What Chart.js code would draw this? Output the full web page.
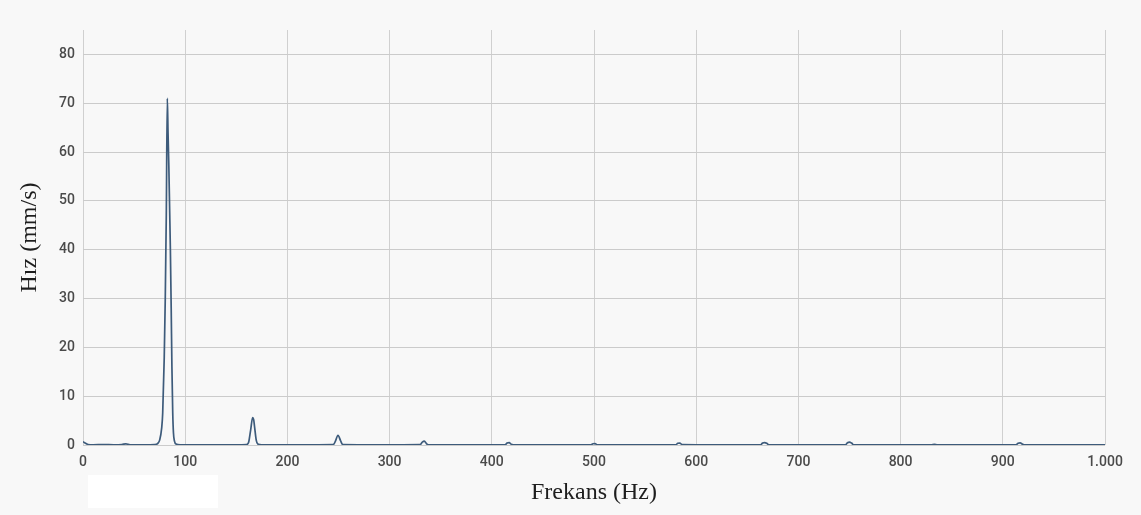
<!DOCTYPE html>
<html>
<head>
<meta charset="utf-8">
<script src="https://cdn.jsdelivr.net/npm/chart.js@4.4.0/dist/chart.umd.min.js"></script>
<style>
  html, body { margin: 0; padding: 0; background: #f8f8f8; }
  #wrap { position: relative; width: 1141px; height: 515px; }
  canvas { display: block; }
  #patch { position: absolute; left: 88px; top: 475px; width: 130px; height: 33px; background: #ffffff; }
</style>
</head>
<body>
<div id="wrap">
  <canvas id="c" width="1141" height="515"></canvas>
  <div id="patch"></div>
</div>
<script>
// Vibration velocity spectrum: frequency (Hz) and velocity amplitude (mm/s)
const frequencies = [
  0, 2, 5, 10, 20, 30, 38, 42, 46, 60, 70, 73, 75, 77, 78, 79.5, 80.5, 81.5, 82.5,
  83.2, 84, 84.8, 85.5, 86.3, 87, 87.8, 88.5, 89.5, 91, 95, 120, 150,
  160, 162, 164, 166, 167, 168, 169.5, 171, 175, 210,
  245, 247, 249.5, 252, 254, 290,
  330, 332, 334, 336, 338, 380,
  413, 415, 417, 419, 421, 460,
  497, 499, 501, 503, 540,
  580, 582, 584, 586, 620,
  663, 665, 667, 669, 671, 710,
  746, 748, 750, 752, 754, 790,
  830, 833, 836, 870,
  913, 915, 917, 919, 921, 960, 1000
];
const amplitudes = [
  0.7, 0.4, 0.1, 0.05, 0.1, 0.05, 0.1, 0.25, 0.05, 0.05, 0.1, 0.3, 1.0, 3.5, 6.6, 18, 30, 47, 71,
  64, 57, 48, 40, 28, 16, 6.6, 2.5, 0.8, 0.2, 0.05, 0.05, 0.05,
  0.1, 0.5, 3, 5.6, 5.2, 3.5, 1, 0.2, 0.05, 0.05,
  0.1, 0.8, 2.0, 0.9, 0.1, 0.05,
  0.1, 0.6, 0.8, 0.3, 0.05, 0.05,
  0.05, 0.4, 0.5, 0.15, 0.05, 0.05,
  0.05, 0.25, 0.3, 0.05, 0.05,
  0.05, 0.35, 0.4, 0.1, 0.05,
  0.05, 0.4, 0.5, 0.35, 0.05, 0.05,
  0.05, 0.45, 0.6, 0.4, 0.05, 0.05,
  0.05, 0.15, 0.05, 0.05,
  0.05, 0.35, 0.45, 0.2, 0.05, 0.05, 0.05
];
const xTicks = [0, 100, 200, 300, 400, 500, 600, 700, 800, 900, 1000];
const yTicks = [0, 10, 20, 30, 40, 50, 60, 70, 80];

const points = frequencies.map((f, i) => ({ x: f, y: amplitudes[i] }));

const tickFont = { family: 'Roboto', size: 14, weight: '500' };
const titleFont = { family: 'Liberation Serif', size: 24 };

new Chart(document.getElementById('c'), {
  type: 'line',
  data: {
    datasets: [{
      data: points,
      borderColor: '#3d5b7b',
      borderWidth: 1.7,
      borderJoinStyle: 'round',
      cubicInterpolationMode: 'monotone',
      pointRadius: 0,
      fill: false
    }]
  },
  options: {
    responsive: false,
    animation: false,
    locale: 'tr-TR',
    layout: { padding: { left: 0, top: 30, right: 36, bottom: 8 } },
    plugins: { legend: { display: false }, tooltip: { enabled: false } },
    scales: {
      x: {
        type: 'linear',
        min: 0,
        max: 1000,
        afterBuildTicks: axis => { axis.ticks = xTicks.map(v => ({ value: v })); },
        afterFit: axis => { axis.height = 62; },
        grid: { color: '#d0d0d0', lineWidth: 1, drawTicks: false },
        border: { display: false },
        ticks: {
          padding: 9,
          color: '#4a4a4a',
          font: tickFont,
          maxRotation: 0,
          callback: v => v.toLocaleString('tr-TR')
        },
        title: {
          display: true,
          text: 'Frekans (Hz)',
          color: '#1e1e1e',
          font: titleFont,
          padding: { top: 4, bottom: 0 }
        }
      },
      y: {
        type: 'linear',
        min: 0,
        max: 85,
        afterBuildTicks: axis => { axis.ticks = yTicks.map(v => ({ value: v })); },
        afterFit: axis => { axis.width = 83; },
        grid: { color: '#cbcbcb', lineWidth: 1, drawTicks: false },
        border: { display: false },
        ticks: {
          padding: 8,
          color: '#4a4a4a',
          font: tickFont
        },
        title: {
          display: true,
          text: 'Hız (mm/s)',
          color: '#1e1e1e',
          font: titleFont,
          padding: { top: 15, bottom: 0 }
        }
      }
    }
  }
});
</script>
</body>
</html>
